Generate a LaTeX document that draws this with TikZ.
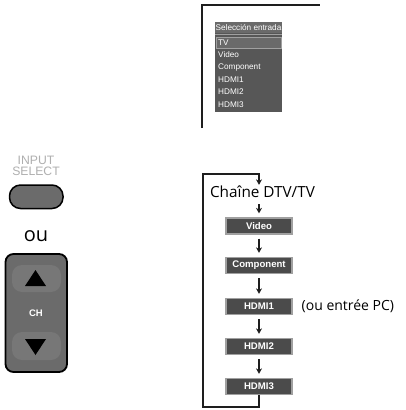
\documentclass[tikz,border=0pt]{standalone}
\usepackage{fontspec}
\setmainfont{Liberation Sans}
\newfontfamily\myriad{Open Sans}
\usetikzlibrary{arrows.meta}
\definecolor{TVFrame}{HTML}{1E1E1E}
\definecolor{TVMenu}{HTML}{575757}
\definecolor{TVTitle}{HTML}{6A6A6A}
\definecolor{TVEdge}{HTML}{A0A0A0}
\definecolor{TVKey}{HTML}{6B6B6B}
\definecolor{TVKeyIn}{HTML}{777777}
\definecolor{TVLabel}{HTML}{AFAFAF}
\definecolor{TVBox}{HTML}{4B4B4B}

\tikzset{
  menuitem/.style={anchor=west,inner sep=0pt,text=white,font=\fontsize{8.2}{8}\selectfont},
  flowbox/.style={draw=TVEdge,line width=1.3pt,fill=TVBox,minimum width=66pt,minimum height=16pt,
    inner sep=0pt,text=white,font=\bfseries\fontsize{9.6}{10}\selectfont},
  flowarrow/.style={-{Stealth[length=5.5pt,width=6pt]},line width=1.4pt,TVFrame}
}

\begin{document}
\begin{tikzpicture}[x=1pt,y=-1pt]
\path[use as bounding box] (0,0) rectangle (405,410);
\fill[white] (0,0) rectangle (405,410);
% screen with the input menu
\draw[TVFrame,line width=2.2pt] (202,128) -- (202,5) -- (320,5);
\fill[TVMenu] (215,22) rectangle (282,112);
\fill[TVTitle] (215,22) rectangle (282,32.5);
\draw[TVEdge,line width=.6pt] (215,34) -- (282,34);
\node[menuitem] (mtitle) at (215.5,27.5) {Selección entrada};
\draw[TVEdge,line width=1pt,fill=TVTitle] (216,37.5) rectangle (281,48);
\node[menuitem] (mtv) at (218,42.8) {TV};
\node[menuitem] (mvideo) at (218,55) {Video};
\node[menuitem] (mcomp) at (218,67.3) {Component};
\node[menuitem] (mhdmi1) at (218,79.6) {HDMI1};
\node[menuitem] (mhdmi2) at (218,91.9) {HDMI2};
\node[menuitem] (mhdmi3) at (218,104.2) {HDMI3};
% remote keys
\node[TVLabel,align=center,inner sep=0pt,font=\fontsize{12.2}{11.5}\selectfont] (inlabel) at (36,166) {INPUT\\SELECT};
\draw[black,line width=1.5pt,fill=TVKey,rounded corners=11pt] (9.5,185) rectangle (63,208.5);
\node[font=\myriad\fontsize{20}{20}\selectfont,inner sep=0pt] (ou) at (36,236) {ou};
\draw[black,line width=1.8pt,fill=TVKey,rounded corners=8pt] (5.5,254) rectangle (67,372);
\fill[TVKeyIn,rounded corners=10pt] (12,265) rectangle (61,292);
\fill[TVKeyIn,rounded corners=10pt] (12,332) rectangle (61,360);
\fill[black] (35.5,270) -- (46,286) -- (25,286) -- cycle;
\fill[black] (35.5,355) -- (46,339) -- (25,339) -- cycle;
\node[text=white,font=\bfseries\fontsize{9.5}{10}\selectfont] (ch) at (36,313) {CH};
% input cycle
\node[font=\myriad\fontsize{15.3}{16}\selectfont,inner sep=0pt] (chaine) at (262.5,192) {Chaîne DTV/TV};
\node[flowbox] (video) at (259,226) {Video};
\node[flowbox] (comp) at (259,265.5) {Component};
\node[flowbox] (hdmi1) at (259,306.5) {HDMI1};
\node[flowbox] (hdmi2) at (259,346.5) {HDMI2};
\node[flowbox] (hdmi3) at (259,386.5) {HDMI3};
\node[font=\myriad\fontsize{14}{15}\selectfont,anchor=west,inner sep=0pt] (pc) at (301.5,306) {(ou entrée PC)};
\coordinate (loopb) at (203,407);
\coordinate (loopt) at (203,174);
\draw[flowarrow,shorten >=1pt] (hdmi3.south) -- (hdmi3.south |- loopb) -- (loopb) -- (loopt) -- (loopt -| video.north) -- (video.north |- chaine.north);
\draw[flowarrow,shorten <=6pt,shorten >=4pt] (video.north |- chaine.south) -- (video.north);
\draw[flowarrow,shorten <=4pt,shorten >=4pt] (video) -- (comp);
\draw[flowarrow,shorten <=4pt,shorten >=4pt] (comp) -- (hdmi1);
\draw[flowarrow,shorten <=4pt,shorten >=4pt] (hdmi1) -- (hdmi2);
\draw[flowarrow,shorten <=4pt,shorten >=4pt] (hdmi2) -- (hdmi3);
\end{tikzpicture}
\end{document}
